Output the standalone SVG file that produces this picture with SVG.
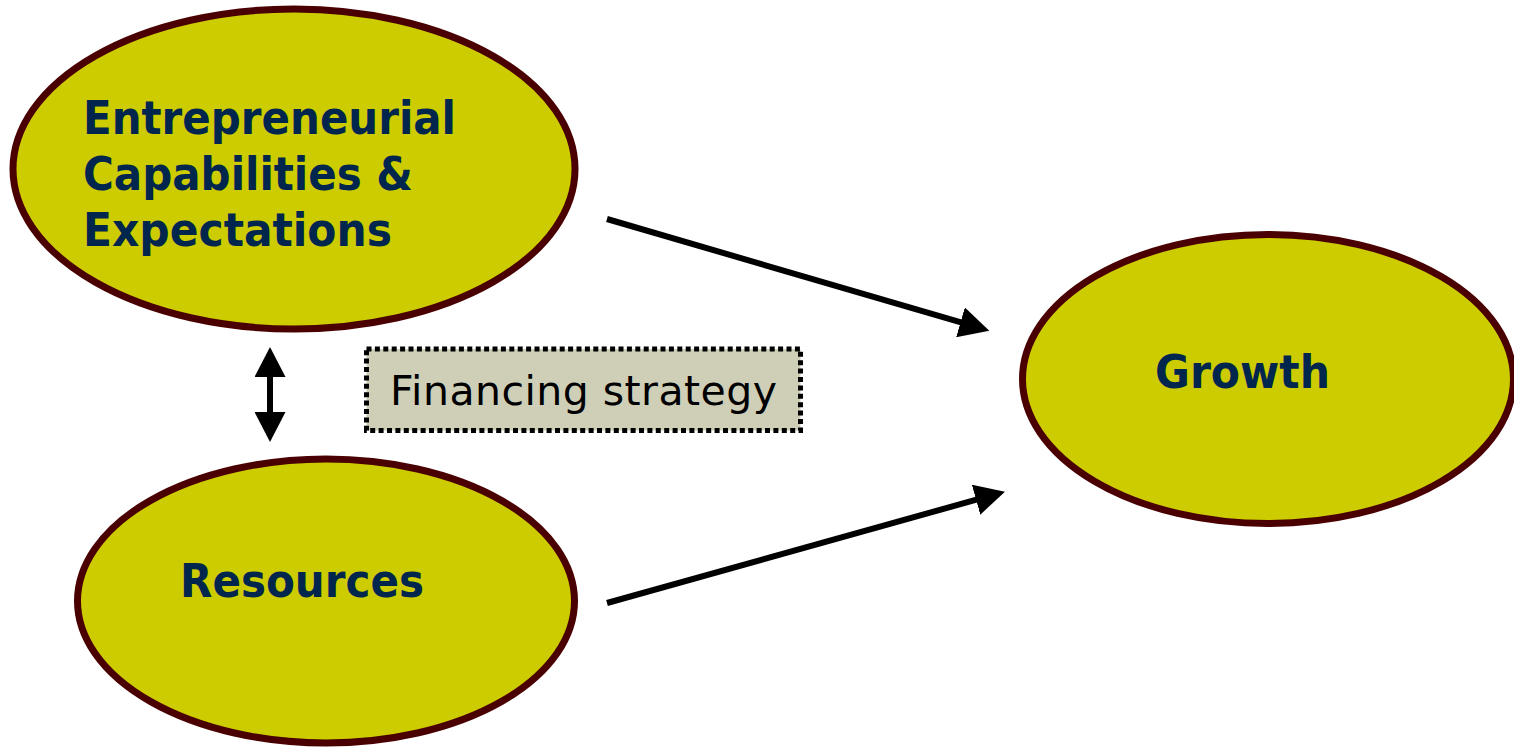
<svg xmlns="http://www.w3.org/2000/svg" width="1514" height="748" viewBox="0 0 1514 748">
  <style>
    .node { fill: #CCCC00; stroke: #4A0000; stroke-width: 7; }
    .label { font-family: "DejaVu Sans Condensed", "DejaVu Sans", "Liberation Sans", sans-serif; font-stretch: condensed; font-weight: bold; font-size: 47px; fill: #00264D; }
    .conn { stroke: #000; stroke-width: 6; fill: none; }
    .note-box { fill: #CFCFB8; stroke: #000; stroke-width: 5; stroke-dasharray: 5 3.4; }
    .note-text { font-family: "DejaVu Sans", "Liberation Sans", sans-serif; font-size: 41px; fill: #000; }
  </style>
  <defs>
    <marker id="head" markerUnits="userSpaceOnUse" markerWidth="31" markerHeight="31" refX="5" refY="15.5" orient="auto-start-reverse">
      <path d="M0,0 L30,15.5 L0,31 Z" fill="#000"/>
    </marker>
  </defs>

  <rect width="1514" height="748" fill="#FFFFFF"/>

  <g id="entrepreneurial">
    <ellipse class="node" cx="294" cy="169" rx="281" ry="160"/>
    <text class="label" x="83" y="134" textLength="373" lengthAdjust="spacingAndGlyphs">Entrepreneurial</text>
    <text class="label" x="83" y="190" textLength="330" lengthAdjust="spacingAndGlyphs">Capabilities &amp;</text>
    <text class="label" x="83" y="246" textLength="309" lengthAdjust="spacingAndGlyphs">Expectations</text>
  </g>

  <g id="resources">
    <ellipse class="node" cx="326" cy="601" rx="248.5" ry="142"/>
    <text class="label" x="180" y="597" textLength="244" lengthAdjust="spacingAndGlyphs">Resources</text>
  </g>

  <g id="growth">
    <ellipse class="node" cx="1268" cy="379" rx="245.5" ry="144.5"/>
    <text class="label" x="1155" y="388" textLength="175" lengthAdjust="spacingAndGlyphs">Growth</text>
  </g>

  <g id="financing-strategy">
    <rect class="note-box" x="366.5" y="349" width="434" height="81.5"/>
    <text class="note-text" x="390" y="405" textLength="387" lengthAdjust="spacing">Financing strategy</text>
  </g>

  <g id="connectors">
    <line class="conn" x1="607" y1="219" x2="965.3" y2="323.7" marker-end="url(#head)"/>
    <line class="conn" x1="607" y1="603" x2="980.9" y2="498.4" marker-end="url(#head)"/>
    <line class="conn" x1="270" y1="372" x2="270" y2="417" marker-start="url(#head)" marker-end="url(#head)"/>
  </g>
</svg>
